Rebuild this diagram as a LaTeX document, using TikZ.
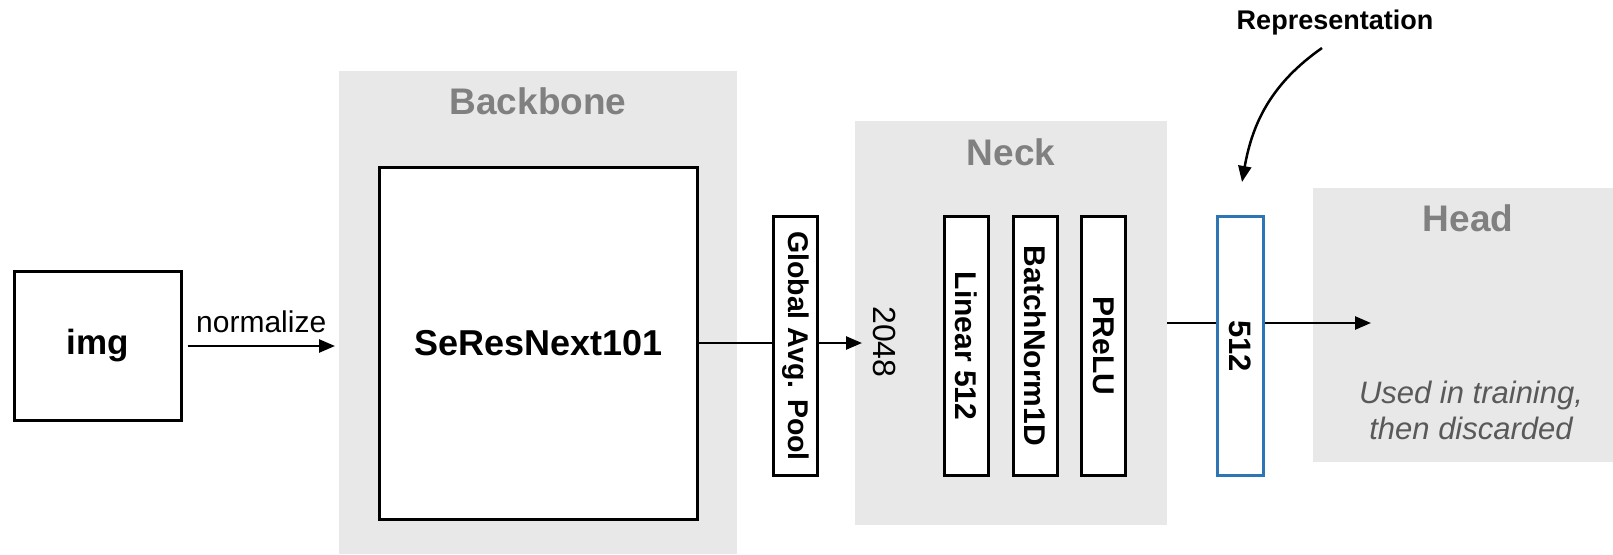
\documentclass[tikz,border=0pt]{standalone}
\usepackage{fontspec}
\setmainfont{Liberation Sans}
\usetikzlibrary{arrows.meta}
\definecolor{bggray}{RGB}{232,232,232}
\definecolor{titlegray}{RGB}{128,128,128}
\definecolor{notegray}{RGB}{89,89,89}
\definecolor{repblue}{RGB}{46,117,182}
\tikzset{
  bgbox/.style={fill=bggray, draw=none, inner sep=0pt, rectangle},
  grouptitle/.style={text=titlegray, inner sep=0pt, font=\fontsize{37}{44}\selectfont\bfseries},
  blockbox/.style={draw=black, line width=3pt, fill=white, inner sep=0pt, rectangle},
  vbox/.style={blockbox, rotate=-90, minimum width=259pt, minimum height=44pt, font=\fontsize{30}{36}\selectfont\bfseries},
  conn/.style={line width=2.5pt, -{Triangle[length=16pt,width=13pt]}},
}
\begin{document}
\begin{tikzpicture}[x=1pt,y=1pt]
\useasboundingbox (0,0) rectangle (1613,-554);
% group backgrounds
\node[bgbox, minimum width=398pt, minimum height=483pt] (backbone) at (538,-312.5) {};
\node[bgbox, minimum width=312pt, minimum height=404pt] (neck) at (1011,-323) {};
\node[bgbox, minimum width=300pt, minimum height=274pt] (head) at (1463,-325) {};
\node[grouptitle] (backbonetitle) at (538,-101) {Backbone};
\node[grouptitle] (necktitle) at (1011,-152) {Neck};
\node[grouptitle] (headtitle) at (1468,-218) {Head};
% main blocks
\node[blockbox, minimum width=167pt, minimum height=149pt, font=\fontsize{35}{42}\selectfont\bfseries] (img) at (97.5,-346) {img};
\node[blockbox, minimum width=318pt, minimum height=352pt, font=\fontsize{36}{43}\selectfont\bfseries] (seres) at (538.5,-343) {SeResNext101};
% connectors
\coordinate (normend) at (335,-346);
\draw[conn] ([xshift=5pt]img.east) -- (normend) node[midway, above=12pt, inner sep=0pt, font=\fontsize{30}{36}\selectfont] (normlabel) {normalize};
\coordinate (gapend) at (862,-343);
\draw[conn] (seres.east) -- (gapend);
\coordinate (headend) at (1371,-323);
\draw[conn] (neck.east) -- (headend);
% vertical blocks
\node[vbox, font=\fontsize{28.5}{34}\selectfont\bfseries] (gap) at (795.5,-346) {Global Avg. Pool};
\node[vbox] (linear) at (966.5,-346) {Linear 512};
\node[vbox] (bn) at (1035.5,-346) {BatchNorm1D};
\node[vbox] (prelu) at (1103.5,-346) {PReLU};
\node[vbox, draw=repblue, minimum height=46pt, font=\fontsize{31}{37}\selectfont\bfseries] (rep) at (1240.5,-346) {512};
\node[rotate=-90, inner sep=0pt, font=\fontsize{32}{38}\selectfont] (dim) at (885,-342) {2048};
% head note
\node[align=center, text=notegray, inner sep=0pt, font=\fontsize{31}{36}\selectfont\itshape] (note) at (1471,-410) {Used in training,\\then discarded};
% representation
\node[inner sep=0pt, font=\fontsize{27}{32}\selectfont\bfseries] (reptitle) at (1335,-23) {Representation};
\coordinate (repstart) at (1322,-48);
\coordinate (repend) at (1242,-182);
\draw[conn] (repstart) to[out=215,in=80] (repend);
\end{tikzpicture}
\end{document}
